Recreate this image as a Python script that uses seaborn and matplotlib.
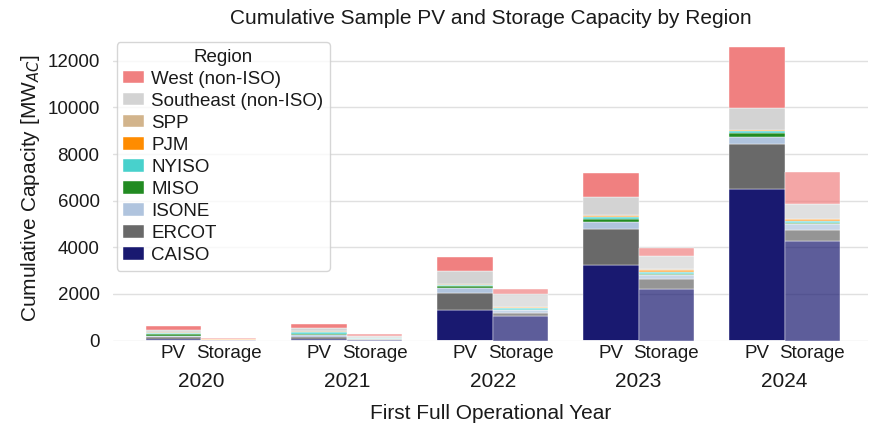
import numpy as np
import pandas as pd
import matplotlib
matplotlib.use("Agg")
import matplotlib.pyplot as plt
import seaborn as sns

# datos (MW_AC acumulados), años 2020..2024
years = [2020, 2021, 2022, 2023, 2024]
regions = ["West (non-ISO)", "Southeast (non-ISO)", "SPP", "PJM", "NYISO",
           "MISO", "ISONE", "ERCOT", "CAISO"]
colores = ["lightcoral", "lightgray", "tan", "darkorange", "mediumturquoise",
           "forestgreen", "lightsteelblue", "dimgray", "midnightblue"]

# PV por region
pv_west = [170, 190, 610, 1010, 2590]
pv_southeast = [90, 110, 570, 790, 940]
pv_spp = [40, 40, 20, 30, 25]
pv_pjm = [10, 20, 30, 50, 45]
pv_nyiso = [50, 60, 40, 60, 60]
pv_miso = [50, 60, 60, 140, 170]
pv_isone = [60, 70, 240, 290, 315]
pv_ercot = [90, 100, 720, 1550, 1940]
pv_caiso = [60, 70, 1310, 3250, 6490]

# Storage por region
st_west = [40, 60, 210, 330, 1365]
st_southeast = [30, 80, 525, 570, 655]
st_spp = [5, 10, 15, 50, 20]
st_pjm = [5, 10, 40, 60, 60]
st_nyiso = [5, 20, 70, 90, 110]
st_miso = [0, 10, 20, 40, 50]
st_isone = [5, 20, 110, 200, 230]
st_ercot = [10, 20, 150, 430, 460]
st_caiso = [20, 30, 1050, 2200, 4290]

pv = [pv_west, pv_southeast, pv_spp, pv_pjm, pv_nyiso, pv_miso, pv_isone, pv_ercot, pv_caiso]
st = [st_west, st_southeast, st_spp, st_pjm, st_nyiso, st_miso, st_isone, st_ercot, st_caiso]

ancho = 0.38
grupos = np.arange(len(years))

filas = []
for r, reg in enumerate(regions):
    for g in grupos:
        filas.append({"x": g - ancho / 2, "Region": reg, "MW": pv[r][g], "Tipo": "PV"})
        filas.append({"x": g + ancho / 2, "Region": reg, "MW": st[r][g], "Tipo": "Storage"})
df = pd.DataFrame(filas)

# bordes de las barras: PV | Storage para cada año
bordes = []
for g in grupos:
    bordes += [g - ancho, g, g + ancho]

sns.set_theme(style="whitegrid", rc={"grid.color": "0.88", "text.color": "0.1",
                                     "axes.labelcolor": "0.1", "xtick.color": "0.1",
                                     "ytick.color": "0.1"})
plt.rcParams["font.family"] = ["Liberation Sans", "DejaVu Sans"]

fig = plt.figure(figsize=(8.69, 4.23), dpi=100)
ax = fig.add_axes([0.1305, 0.195, 0.868, 0.722])

sns.histplot(data=df[df.Tipo == "PV"], x="x", weights="MW", hue="Region",
             hue_order=regions, palette=colores, multiple="stack", bins=bordes,
             alpha=1, linewidth=0.3, ax=ax, legend=True)
sns.histplot(data=df[df.Tipo == "Storage"], x="x", weights="MW", hue="Region",
             hue_order=regions, palette=colores, multiple="stack", bins=bordes,
             alpha=0.7, linewidth=0.3, ax=ax, legend=False)

ax.set_xlim(-0.6, 4.57)
ax.set_ylim(0, 13100)
ax.set_yticks(range(0, 12001, 2000))
ax.tick_params(axis="y", labelsize=13.5, length=0, pad=10)

ax.set_xticks(grupos)
ax.set_xticklabels([str(a) for a in years], fontsize=15)
ax.set_xticks(np.concatenate([grupos - ancho / 2, grupos + ancho / 2]), minor=True)
ax.set_xticklabels(["PV"] * len(years) + ["Storage"] * len(years), minor=True, fontsize=13.5)
ax.tick_params(axis="x", which="major", pad=23, length=0)
ax.tick_params(axis="x", which="minor", pad=3, length=0)
ax.xaxis.grid(False, which="both")
for s in ax.spines.values():
    s.set_visible(False)

ax.set_xlabel("First Full Operational Year", fontsize=15, labelpad=9)
ax.set_ylabel("Cumulative Capacity [MW$_{AC}$]", fontsize=15)
ax.set_title("Cumulative Sample PV and Storage Capacity by Region", fontsize=15, pad=8)

sns.move_legend(ax, "upper left", bbox_to_anchor=(-0.008, 1.008), title="Region",
                fontsize=13.5, title_fontsize=13.5, labelspacing=0.27,
                handlelength=1.1, handleheight=0.65, handletextpad=0.4,
                borderpad=0.35, frameon=True)

fig.savefig("out.png", dpi=100)
